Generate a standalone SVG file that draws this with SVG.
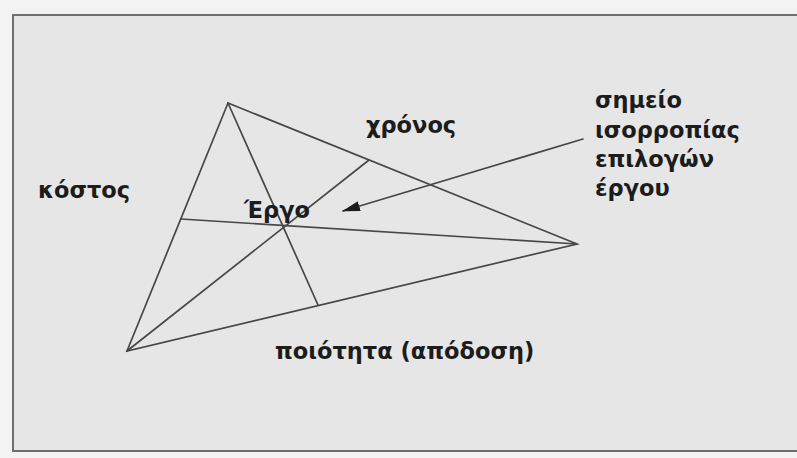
<svg xmlns="http://www.w3.org/2000/svg" width="797" height="458" viewBox="0 0 797 458">
<style>
.t{font-family:"DejaVu Sans","Noto Sans",sans-serif;font-weight:bold;font-size:22.5px;fill:#1c1c1c}
.ln{stroke:#474747;stroke-width:1.7;fill:none;stroke-linecap:round}
</style>
<defs>
<marker id="ah" markerWidth="18" markerHeight="10" refX="17" refY="5" orient="auto" markerUnits="userSpaceOnUse">
<path d="M0,0 L18,5 L0,10 Z" fill="#1c1c1c"/>
</marker>
</defs>
<rect x="0" y="0" width="797" height="458" fill="#f3f3f3"/>
<rect x="13" y="15" width="790" height="436" fill="#e6e6e6" stroke="#6e6e6e" stroke-width="2"/>
<g id="connectors">
<polygon class="ln" points="228,103 577,244 127,351"/>
<line class="ln" x1="228" y1="103" x2="318" y2="305"/>
<line class="ln" x1="127" y1="351" x2="369" y2="160"/>
<line class="ln" x1="577" y1="244" x2="181" y2="219"/>
<line class="ln" x1="583" y1="139" x2="343" y2="211" marker-end="url(#ah)"/>
</g>
<g id="kostos"><text class="t" x="38" y="198">κόστος</text></g>
<g id="chronos"><text class="t" x="366" y="133">χρόνος</text></g>
<g id="ergo"><text class="t" x="244" y="218">Έργο</text></g>
<g id="poiotita"><text class="t" x="275" y="359">ποιότητα (απόδοση)</text></g>
<g id="simeio">
<text class="t" x="595" y="108">σημείο</text>
<text class="t" x="595" y="138">ισορροπίας</text>
<text class="t" x="595" y="167">επιλογών</text>
<text class="t" x="595" y="196">έργου</text>
</g>
</svg>
